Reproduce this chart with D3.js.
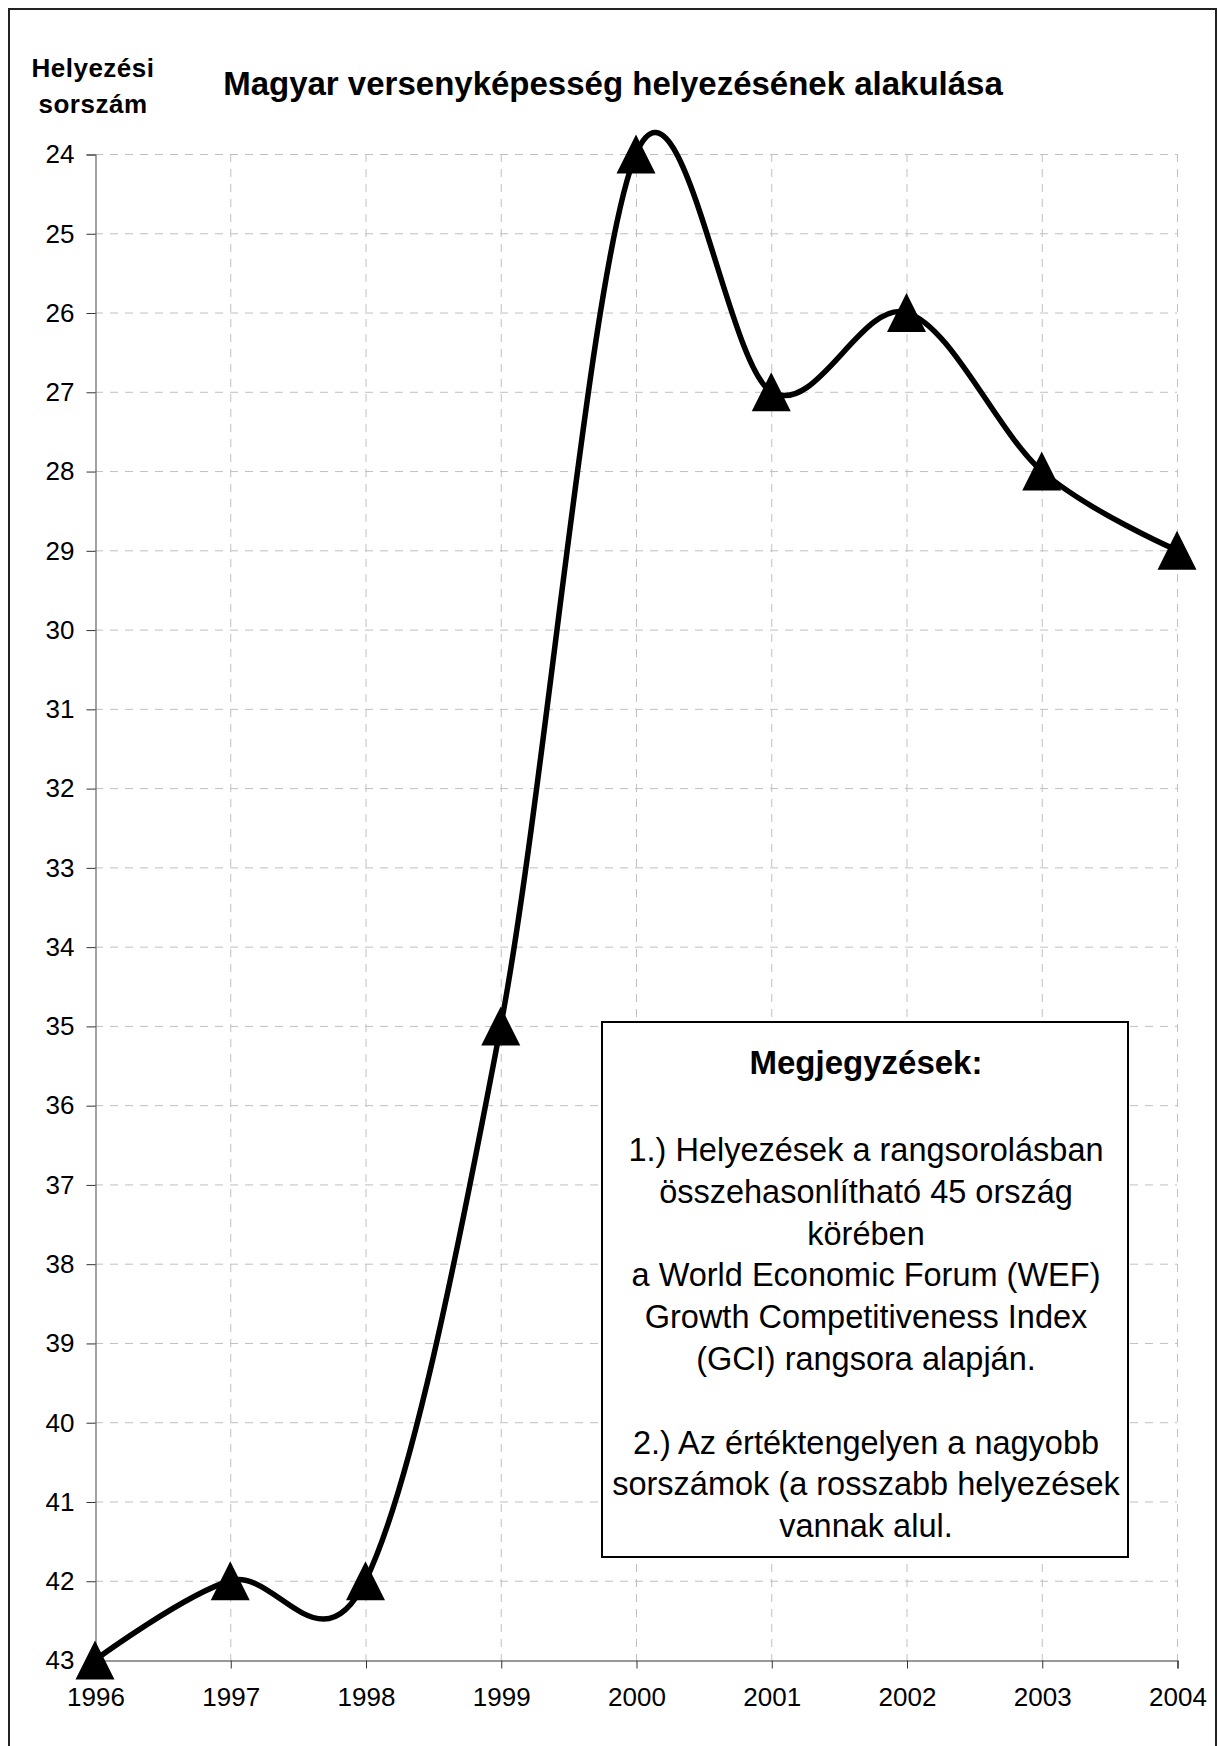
<!DOCTYPE html>
<html>
<head>
<meta charset="utf-8">
<script src="https://cdn.jsdelivr.net/npm/d3@7"></script>
<style>
  body { margin: 0; background: #fff; }
  text { font-family: "Liberation Sans", Arial, sans-serif; fill: #000; }
</style>
</head>
<body>
<script>
(function() {

    // data
    var years = [1996, 1997, 1998, 1999, 2000, 2001, 2002, 2003, 2004];
    var ranks = [43, 42, 42, 35, 24, 27, 26, 28, 29];
    var yTicks = d3.range(24, 44);
    var titleText = "Magyar versenyképesség helyezésének alakulása";
    var yTitle = ["Helyezési", "sorszám"];
    var noteTitle = "Megjegyzések:";
    var noteLines = [
        "1.) Helyezések a rangsorolásban",
        "összehasonlítható 45 ország",
        "körében",
        "a World Economic Forum (WEF)",
        "Growth Competitiveness Index",
        "(GCI) rangsora alapján.",
        "",
        "2.) Az értéktengelyen a nagyobb",
        "sorszámok (a rosszabb helyezések",
        "vannak alul."
    ];

    var width = 1218,
        height = 1746;

    var svg = d3.select("body")
        .append("svg")
        .attr("width", width)
        .attr("height", height);

    // outer frame (only top, left, right visible in the original)
    svg.append("path")
        .attr("d", "M9,1746V9H1216V1746")
        .attr("fill", "none")
        .attr("stroke", "#222")
        .attr("stroke-width", 2);

    var x = d3.scaleLinear()
        .domain([1996, 2004])
        .range([95, 1177]);

    var y = d3.scaleLinear()
        .domain([24, 43])
        .range([154, 1660]);

    // grid
    var grid = svg.append("g").attr("class", "grid");

    grid.selectAll(".hgrid")
        .data(yTicks.slice(0, -1))
        .enter().append("line")
        .attr("x1", x(1996)).attr("x2", x(2004))
        .attr("y1", function(d) { return y(d) + 0.5; })
        .attr("y2", function(d) { return y(d) + 0.5; })
        .attr("stroke", "#c0c0c0")
        .attr("stroke-dasharray", "8,7");

    grid.selectAll(".vgrid")
        .data(years.slice(1))
        .enter().append("line")
        .attr("x1", function(d) { return x(d) + 0.5; })
        .attr("x2", function(d) { return x(d) + 0.5; })
        .attr("y1", y(24)).attr("y2", y(43))
        .attr("stroke", "#c0c0c0")
        .attr("stroke-dasharray", "8,7");

    // axes
    var yAxis = d3.axisLeft(y)
        .tickValues(yTicks)
        .tickSize(9)
        .tickPadding(12)
        .tickFormat(d3.format("d"));

    var gy = svg.append("g")
        .attr("transform", "translate(" + (x(1996) + 0.5) + ",0.5)")
        .call(yAxis);

    var xAxis = d3.axisBottom(x)
        .tickValues(years)
        .tickSize(8)
        .tickPadding(19)
        .tickFormat(d3.format("d"));

    var gx = svg.append("g")
        .attr("transform", "translate(0.5," + (y(43) + 0.5) + ")")
        .call(xAxis);

    [gx, gy].forEach(function(g) {
        g.select(".domain").attr("stroke", "#333").attr("stroke-width", 1.2);
        g.selectAll(".tick line").attr("stroke", "#333");
        g.selectAll(".tick text")
            .style("font-family", "'Liberation Sans', Arial, sans-serif")
            .style("font-size", "26px")
            .attr("fill", "#000");
    });
    gy.select(".domain").attr("stroke", "#666");

    // titles
    svg.append("text")
        .attr("x", 613)
        .attr("y", 95)
        .attr("text-anchor", "middle")
        .style("font-size", "33px")
        .style("font-weight", "bold")
        .text(titleText);

    svg.selectAll(".ytitle")
        .data(yTitle)
        .enter().append("text")
        .attr("x", 93)
        .attr("y", function(d, i) { return 77 + i * 36; })
        .attr("text-anchor", "middle")
        .style("font-size", "26px")
        .style("font-weight", "bold")
        .style("letter-spacing", "0.5px")
        .text(function(d) { return d; });

    // line, smoothed like the spreadsheet original
    var pts = years.map(function(d, i) { return [d, ranks[i]]; });

    var line = d3.line()
        .curve(d3.curveCardinal.tension(0))
        .x(function(d) { return x(d[0]); })
        .y(function(d) { return y(d[1]); });

    svg.append("path")
        .datum(pts)
        .attr("d", line)
        .attr("fill", "none")
        .attr("stroke", "#000")
        .attr("stroke-width", 5.5)
        .attr("stroke-linejoin", "round");

    // triangle markers, size = full width
    var tri = {
        draw: function(context, size) {
            var h = size / 2;
            context.moveTo(0, -h);
            context.lineTo(h, h);
            context.lineTo(-h, h);
            context.closePath();
        }
    };

    svg.selectAll(".marker")
        .data(pts)
        .enter().append("path")
        .attr("class", "marker")
        .attr("transform", function(d) { return "translate(" + x(d[0]) + "," + y(d[1]) + ")"; })
        .attr("d", d3.symbol().type(tri).size(39))
        .attr("fill", "#000");

    // note box
    var note = svg.append("g");

    note.append("rect")
        .attr("x", 602)
        .attr("y", 1022)
        .attr("width", 526)
        .attr("height", 535)
        .attr("fill", "#fff")
        .attr("stroke", "#000")
        .attr("stroke-width", 2);

    note.append("text")
        .attr("x", 866)
        .attr("y", 1074)
        .attr("text-anchor", "middle")
        .style("font-size", "33px")
        .style("font-weight", "bold")
        .text(noteTitle);

    note.selectAll(".nl")
        .data(noteLines)
        .enter().append("text")
        .attr("x", 866)
        .attr("y", function(d, i) { return 1161 + i * 41.8; })
        .attr("text-anchor", "middle")
        .style("font-size", "32.5px")
        .text(function(d) { return d; });

})();
</script>
</body>
</html>
